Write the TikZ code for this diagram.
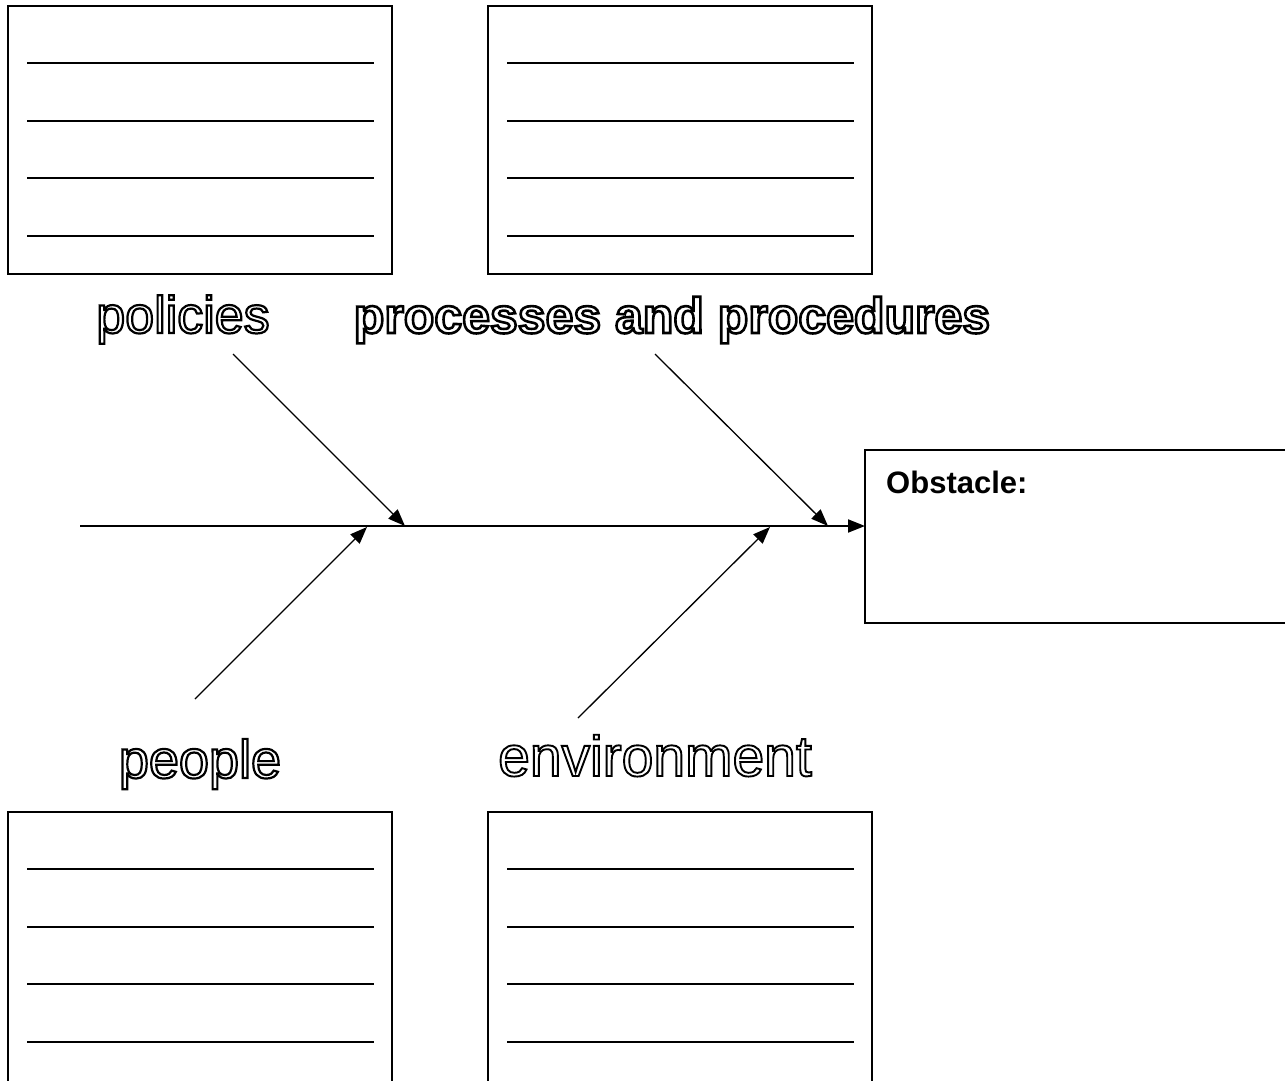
\documentclass[tikz,border=0pt]{standalone}
\usepackage{fontspec}
\setmainfont{Liberation Sans}
\usetikzlibrary{arrows.meta,calc}

% outlined (hollow) lettering: stroke the glyph outlines only
\newcommand{\hollow}[2]{\special{pdf:code 1 Tr #1 w}#2\special{pdf:code 0 Tr}}

\tikzset{
  card/.style={draw, line width=1.5pt, minimum width=384pt, minimum height=268pt,
               inner sep=0pt, outer sep=0pt, anchor=north west},
  rule/.style={line width=2pt},
  bone/.style={line width=1.3pt, -{Triangle[length=17pt,width=13pt]}},
  spine/.style={line width=2pt, -{Triangle[length=17pt,width=13pt]}},
  cat/.style={anchor=base, inner sep=0pt},
}

\begin{document}
\begin{tikzpicture}[x=1pt, y=-1pt]
  \useasboundingbox (0,0) rectangle (1285,1080);

  % writing cards
  \node[card] (c1) at (8,6) {};
  \node[card] (c2) at (488,6) {};
  \node[card, minimum height=280pt] (c3) at (8,812) {};
  \node[card, minimum height=280pt] (c4) at (488,812) {};
  \foreach \c in {c1,c2,c3,c4} {
    \foreach \d in {57,114.5,172,230} {
      \draw[rule] ($(\c.north west)+(19,\d)$) -- ($(\c.north east)+(-18,\d)$);
    }
  }

  % obstacle box
  \node[draw, line width=1.5pt, minimum width=440pt, minimum height=173pt,
        inner sep=0pt, outer sep=0pt, anchor=north west] (obst) at (865,450) {};
  \node[anchor=base west, inner sep=0pt, font=\fontsize{31}{36}\selectfont\bfseries]
        (otitle) at (886,493) {Obstacle:};

  % category labels
  \node[cat, font=\fontsize{52}{60}\selectfont] (lpol) at (183,333) {\hollow{2.2}{policies}};
  \node[cat, font=\fontsize{50}{60}\selectfont\bfseries] (lproc) at (672,333) {\hollow{2.6}{processes and procedures}};
  \node[cat, font=\fontsize{54}{62}\selectfont] (lpeo) at (200,778) {\hollow{2.2}{people}};
  \node[cat, font=\fontsize{57}{66}\selectfont] (lenv) at (655,776) {\hollow{1.9}{environment}};

  % spine
  \coordinate (stail) at (80,526);
  \draw[spine] (stail) -- (obst.west |- stail);

  % bones
  \coordinate (polT) at (233,354);  \coordinate (polH) at (405,526);
  \coordinate (proT) at (655,354);  \coordinate (proH) at (828,526);
  \coordinate (peoT) at (195,699);  \coordinate (peoH) at (367,527);
  \coordinate (envT) at (578,718);  \coordinate (envH) at (770,527);
  \draw[bone] (polT) -- (polH);
  \draw[bone] (proT) -- (proH);
  \draw[bone] (peoT) -- (peoH);
  \draw[bone] (envT) -- (envH);
\end{tikzpicture}
\end{document}
